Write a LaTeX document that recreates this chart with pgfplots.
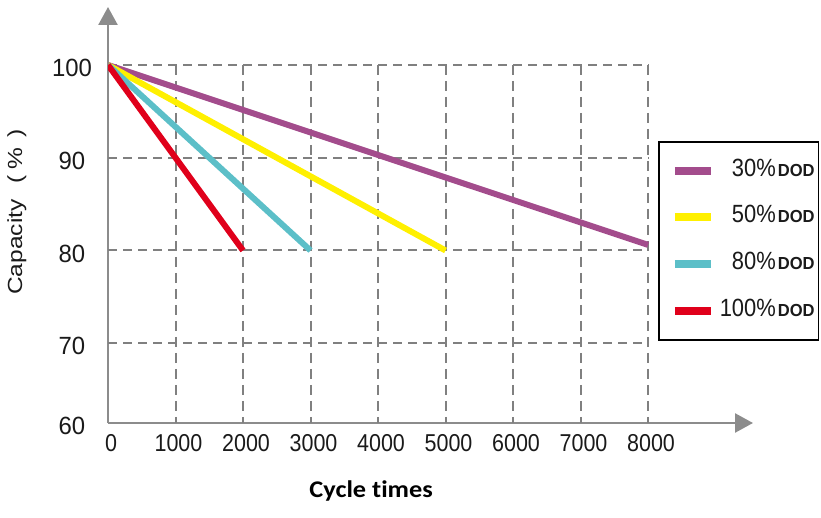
\documentclass[border=0pt]{standalone}
\usepackage{fontspec}
\setmainfont{Liberation Sans}[FakeStretch=0.88]
\newfontfamily\ytfont{Liberation Sans}[FakeStretch=0.96]
\newfontfamily\dodfont{Liberation Sans}[FakeStretch=0.95]
\newfontfamily\ylfont{Liberation Sans}[FakeStretch=1.2]
\newfontfamily\xlfont{Carlito}[FakeStretch=1.1, Ligatures=NoCommon]
\usepackage{pgfplots}
\pgfplotsset{compat=1.18}
\usetikzlibrary{arrows.meta}
\definecolor{cpurple}{RGB}{163,76,140}
\definecolor{cyellow}{RGB}{255,240,0}
\definecolor{ccyan}{RGB}{92,191,200}
\definecolor{cred}{RGB}{224,0,27}
\definecolor{axisgray}{RGB}{140,140,140}
\definecolor{gridgray}{RGB}{128,128,128}
\definecolor{txt}{RGB}{26,26,26}
\begin{document}
\begin{tikzpicture}
\useasboundingbox (0,0) rectangle (821bp,518bp);
\begin{axis}[
  at={(108bp,95bp)}, anchor=south west,
  scale only axis, width=645bp, height=416bp,
  xmin=0, xmax=9555, ymin=61.4, ymax=106.25,
  axis lines=left,
  axis line style={draw=axisgray, line width=2.5bp, -{Triangle[length=18bp,width=19bp]}},
  major tick length=0pt,
  xtick={0,1000,2000,3000,4000,5000,6000,7000,8000},
  xticklabels={0,1000,2000,3000,4000,5000,6000,7000,8000},
  ytick={61.4,70,80,90,100},
  yticklabels={60,70,80,90,100},
  /pgf/number format/assume math mode=true,
  xticklabel style={font=\fontsize{24.5}{29}\selectfont, text=txt, yshift=-8bp, xshift=3bp},
  yticklabel style={font=\ytfont\fontsize{25}{29}\selectfont, text=txt, anchor=center, xshift=-36bp, yshift=-3bp},
  xlabel={\xlfont\bfseries\fontsize{24}{28}\selectfont Cycle times},
  xlabel style={at={(axis description cs:0.408,-0.180)}, anchor=base},
  ylabel={\ylfont\fontsize{20.5}{24}\selectfont Capacity\hspace{16bp}(\hspace{6bp}\%\hspace{10bp})},
  ylabel style={at={(axis description cs:-0.1333,0.507)}, anchor=base, text=txt},
  legend style={at={(axis cs:8148,91.8)}, anchor=north west, draw=black, line width=1.5bp,
    inner xsep=4bp, inner ysep=17.5bp, row sep=23.7bp, column sep=5bp, fill=white,
    nodes={inner sep=0pt, text height=17bp, text depth=6bp, font=\fontsize{25}{29}\selectfont, text=txt}},
  legend cell align=right,
  legend image code/.code={\path (0,0); \draw[#1, line width=8bp] (9bp,0) -- (45bp,0);},
]
\pgfplotsinvokeforeach{70,80,90,100}{
  \draw[draw=gridgray, line width=2bp, dash pattern=on 9bp off 6bp] (axis cs:0,#1) -- (axis cs:8000,#1);
}
\pgfplotsinvokeforeach{1000,2000,3000,4000,5000,6000,7000,8000}{
  \draw[draw=gridgray, line width=2bp, dash pattern=on 10bp off 6bp] (axis cs:#1,100) -- (axis cs:#1,61.4);
}
\addplot[color=cpurple, line width=6bp] coordinates {(0,100) (8000,80.6)};
\addlegendentry{30\%\hspace{2bp}{\dodfont\bfseries\fontsize{17.5}{21}\selectfont DOD}}
\addplot[color=cyellow, line width=6bp] coordinates {(0,100) (5000,80)};
\addlegendentry{50\%\hspace{2bp}{\dodfont\bfseries\fontsize{17.5}{21}\selectfont DOD}}
\addplot[color=ccyan, line width=6bp] coordinates {(0,100) (3000,80)};
\addlegendentry{80\%\hspace{2bp}{\dodfont\bfseries\fontsize{17.5}{21}\selectfont DOD}}
\addplot[color=cred, line width=6bp] coordinates {(0,100) (2000,80)};
\addlegendentry{100\%\hspace{2bp}{\dodfont\bfseries\fontsize{17.5}{21}\selectfont DOD}}
\end{axis}
\end{tikzpicture}
\end{document}
